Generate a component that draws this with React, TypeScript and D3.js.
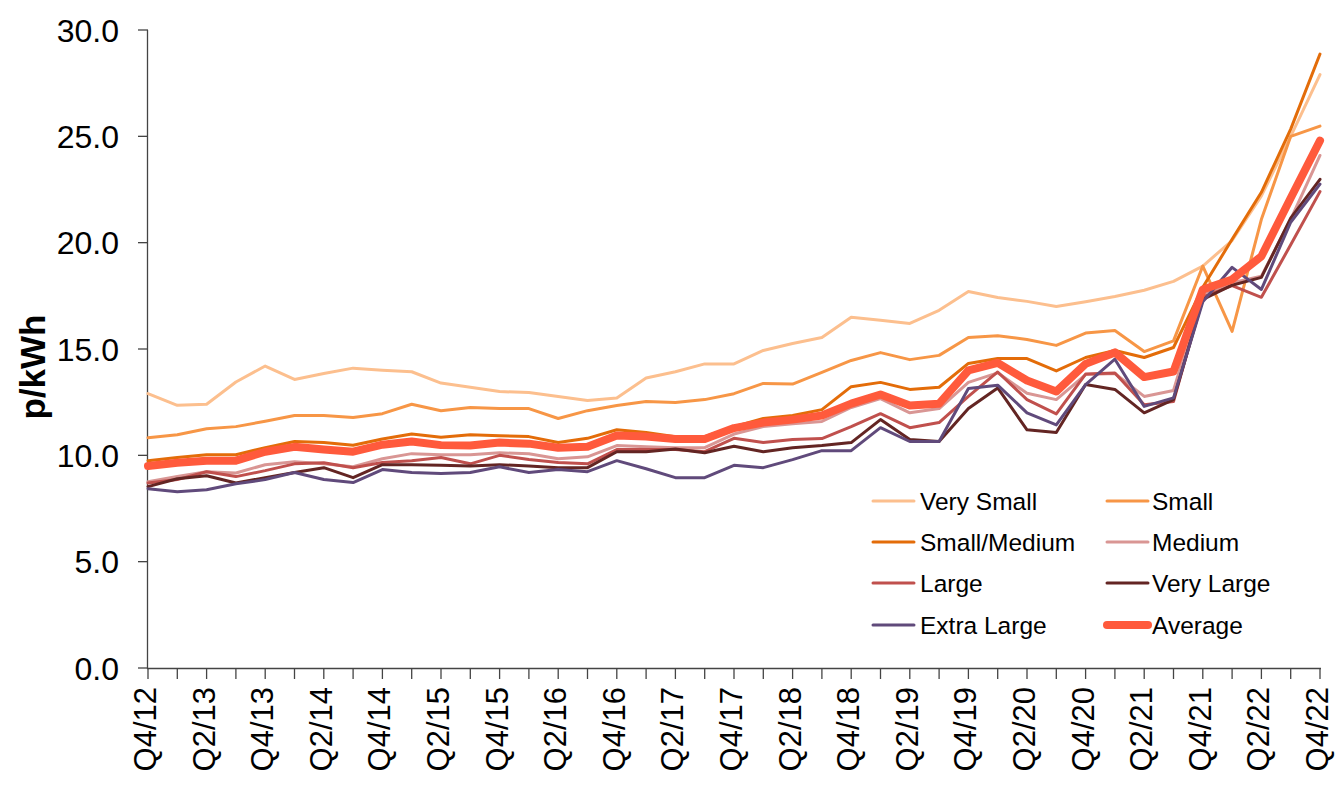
import React from "react";
import * as d3 from "d3";

const quarters: string[] = [
  "Q4/12","Q1/13","Q2/13","Q3/13","Q4/13","Q1/14","Q2/14","Q3/14","Q4/14","Q1/15",
  "Q2/15","Q3/15","Q4/15","Q1/16","Q2/16","Q3/16","Q4/16","Q1/17","Q2/17","Q3/17",
  "Q4/17","Q1/18","Q2/18","Q3/18","Q4/18","Q1/19","Q2/19","Q3/19","Q4/19","Q1/20",
  "Q2/20","Q3/20","Q4/20","Q1/21","Q2/21","Q3/21","Q4/21","Q1/22","Q2/22","Q3/22","Q4/22",
];

const verySmall = [12.9,12.35,12.4,13.45,14.2,13.57,13.85,14.1,14.0,13.93,13.4,13.2,13.0,12.95,12.77,12.58,12.7,13.64,13.93,14.3,14.3,14.93,15.26,15.54,16.49,16.35,16.2,16.82,17.7,17.42,17.24,17.0,17.22,17.47,17.76,18.18,18.9,20.1,22.2,25.0,27.9];
const small = [10.83,10.97,11.25,11.35,11.6,11.87,11.87,11.78,11.96,12.4,12.1,12.25,12.2,12.2,11.73,12.1,12.34,12.53,12.48,12.62,12.9,13.38,13.35,13.9,14.46,14.83,14.5,14.7,15.54,15.62,15.45,15.17,15.75,15.87,14.88,15.38,18.9,15.83,21.1,25.0,25.48];
const smallMedium = [9.75,9.9,10.03,10.03,10.36,10.65,10.6,10.47,10.77,11.0,10.85,10.97,10.92,10.88,10.6,10.8,11.2,11.07,10.88,10.88,11.35,11.73,11.87,12.15,13.23,13.43,13.1,13.2,14.32,14.55,14.55,13.97,14.6,14.93,14.6,15.07,17.9,20.16,22.37,25.34,28.87];
const medium = [8.76,9.0,9.23,9.17,9.56,9.7,9.6,9.46,9.84,10.08,10.03,10.03,10.12,10.07,9.84,9.93,10.46,10.4,10.36,10.36,11.0,11.35,11.49,11.59,12.25,12.67,12.0,12.2,13.43,13.88,12.92,12.62,13.8,13.85,12.77,13.05,17.6,18.12,18.42,21.1,24.1];
const large = [8.7,8.86,9.23,9.0,9.28,9.6,9.65,9.42,9.66,9.75,9.9,9.6,10.0,9.8,9.66,9.6,10.27,10.27,10.27,10.17,10.8,10.6,10.74,10.79,11.35,11.96,11.3,11.54,12.77,13.92,12.62,11.95,13.82,13.87,12.38,12.53,17.45,17.98,17.43,19.9,22.4];
const veryLarge = [8.53,8.9,9.04,8.7,8.95,9.19,9.42,8.95,9.56,9.56,9.53,9.5,9.56,9.5,9.42,9.42,10.17,10.17,10.3,10.12,10.43,10.17,10.36,10.46,10.6,11.68,10.74,10.65,12.2,13.17,11.2,11.07,13.33,13.1,12.0,12.62,17.33,18.0,18.37,21.15,22.98];
const extraLarge = [8.43,8.29,8.38,8.66,8.86,9.19,8.86,8.72,9.33,9.19,9.14,9.19,9.46,9.19,9.33,9.23,9.75,9.37,8.95,8.95,9.53,9.42,9.8,10.22,10.22,11.3,10.65,10.65,13.14,13.3,12.0,11.43,13.33,14.52,12.3,12.7,17.22,18.84,17.8,20.96,22.75];
const average = [9.5,9.65,9.75,9.75,10.17,10.4,10.27,10.17,10.5,10.65,10.48,10.46,10.6,10.55,10.36,10.4,10.93,10.88,10.77,10.77,11.28,11.54,11.68,11.87,12.43,12.86,12.34,12.43,13.99,14.35,13.52,13.0,14.3,14.84,13.68,13.94,17.8,18.27,19.36,22.1,24.8];

const seriesNames = ["Very Small","Small","Small/Medium","Medium","Large","Very Large","Extra Large","Average"];
const seriesValues = [verySmall, small, smallMedium, medium, large, veryLarge, extraLarge, average];
const seriesColors = ["#FCBF8E","#F79646","#E36C09","#D99694","#C0504D","#632523","#604A7B","#FF5A3C"];
const seriesWidths = [3,3,3,3,3,3,3,8];

const yTicks = [0,5,10,15,20,25,30];

export default function App() {
  const W = 1335, H = 787;
  const left = 148, right = 1320, top = 30, bottom = 668;
  const x = d3.scalePoint<string>().domain(quarters).range([left, right]);
  const y = d3.scaleLinear().domain([0, 30]).range([bottom, top]);
  const line = d3.line<number>().x((_, i) => x(quarters[i]) as number).y((d) => y(d));
  const font = "'Liberation Sans', Arial, sans-serif";
  const axisColor = "#444";

  const legendRows = [501, 542, 583, 625];
  const legendCols = [{ lx: 873, tx: 920 }, { lx: 1107, tx: 1152 }];

  return (
    <svg width={W} height={H} style={{ position: "absolute", left: 0, top: 0, background: "#fff" }} fontFamily={font}>
      {/* y axis */}
      <line x1={left - 0.5} x2={left - 0.5} y1={y(30)} y2={bottom + 1} stroke={axisColor} strokeWidth={1.3} />
      {yTicks.map((t) => (
        <g key={t}>
          <line x1={left - 10} x2={left} y1={y(t)} y2={y(t)} stroke={axisColor} strokeWidth={1.3} />
          <text x={119} y={y(t)} dy="0.36em" textAnchor="end" fontSize={32} fill="#000">{t.toFixed(1)}</text>
        </g>
      ))}
      <text transform={`translate(45,${367}) rotate(-90)`} textAnchor="middle" fontSize={35} fontWeight="bold" fill="#000">p/kWh</text>

      {/* x axis */}
      <line x1={left - 1} x2={right + 1} y1={bottom + 0.5} y2={bottom + 0.5} stroke={axisColor} strokeWidth={1.3} />
      {quarters.map((q) => (
        <line key={q} x1={x(q)} x2={x(q)} y1={bottom} y2={bottom + 11} stroke={axisColor} strokeWidth={1.3} />
      ))}
      {quarters.map((q, i) =>
        i % 2 === 0 ? (
          <text key={"l" + q} transform={`translate(${(x(q) as number) + 8},${687}) rotate(-90)`} textAnchor="end" fontSize={31} fill="#000">{q}</text>
        ) : null
      )}

      {/* series */}
      {seriesValues.map((vals, s) => (
        <path key={seriesNames[s]} d={line(vals) || ""} fill="none" stroke={seriesColors[s]} strokeWidth={seriesWidths[s]} strokeLinejoin="round" strokeLinecap="round" />
      ))}

      {/* legend */}
      {seriesNames.map((n, s) => {
        const row = legendRows[Math.floor(s / 2)];
        const col = legendCols[s % 2];
        return (
          <g key={"lg" + n}>
            <line x1={col.lx} x2={col.lx + 41} y1={row} y2={row} stroke={seriesColors[s]} strokeWidth={seriesWidths[s]} strokeLinecap="round" />
            <text x={col.tx} y={row} dy="0.36em" fontSize={24.5} fill="#000">{n}</text>
          </g>
        );
      })}
    </svg>
  );
}
